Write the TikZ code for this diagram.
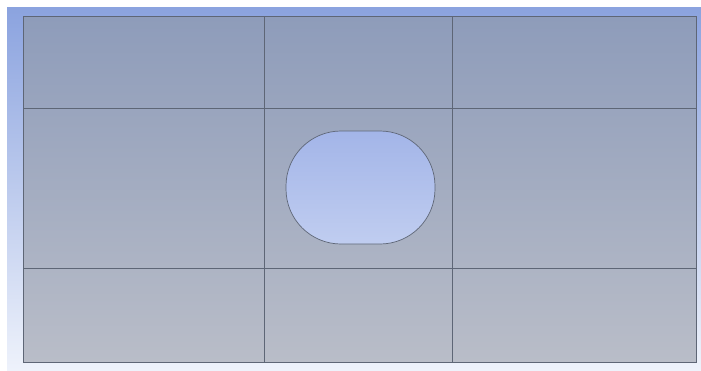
\documentclass[tikz,border=0pt]{standalone}
\definecolor{bgtop}{HTML}{8BA3DF}
\definecolor{bgbot}{HTML}{EEF2FB}
\definecolor{platetop}{HTML}{8E9CBA}
\definecolor{platebot}{HTML}{B9BDC8}
\definecolor{holetop}{HTML}{A3B5E8}
\definecolor{holebot}{HTML}{C0CDF0}
\definecolor{edgec}{HTML}{5E6676}
\tikzset{gridline/.style={draw=edgec, line width=0.8pt}}
\begin{document}
\begin{tikzpicture}[x=1pt,y=-1pt]
\useasboundingbox (0,0) rectangle (701,370);
\fill[white] (0,0) rectangle (701,370);
\shade[top color=bgtop, bottom color=bgbot] (7,7) rectangle (701,370);
\shade[top color=platetop, bottom color=platebot, draw=edgec, line width=0.8pt] (23,16) rectangle (696,362);
\draw[gridline] (264,16) -- (264,362);
\draw[gridline] (452,16) -- (452,362);
\draw[gridline] (23,108) -- (696,108);
\draw[gridline] (23,268) -- (696,268);
\shade[top color=holetop, bottom color=holebot, draw=edgec, line width=0.7pt, rounded corners=55pt] (286,131) rectangle (435,244);
\end{tikzpicture}
\end{document}
